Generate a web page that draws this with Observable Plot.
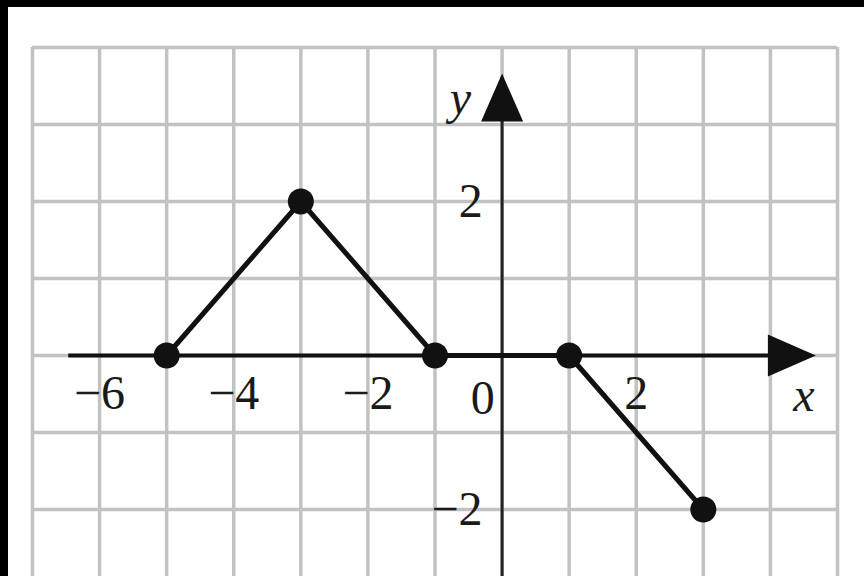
<!DOCTYPE html>
<html>
<head>
<meta charset="utf-8">
<script src="https://cdn.jsdelivr.net/npm/d3@7"></script>
<script src="https://cdn.jsdelivr.net/npm/@observablehq/plot@0.6"></script>
<style>
  html, body { margin: 0; padding: 0; background: #fff; }
  #wrap { position: relative; width: 864px; height: 576px; overflow: hidden; background: #fff; }
  #wrap svg { position: absolute; left: 0; top: 0; }
  .band { position: absolute; background: #000; }
</style>
</head>
<body>
<div id="wrap">
  <div id="chart"></div>
  <div class="band" style="left:0;top:0;width:864px;height:7px;"></div>
  <div class="band" style="left:0;top:0;width:8px;height:576px;"></div>
</div>
<script>
// Function graph vertices
const fx = [-5, -3, -1, 1, 3];
const fy = [0, 2, 0, 0, -2];

// Grid lines
const gridX = [-7, -6, -5, -4, -3, -2, -1, 0, 1, 2, 3, 4, 5];
const gridY = [4, 3, 2, 1, 0, -1, -2, -3];

// Tick labels
const xTickVals = [-6, -4, -2, 2];
const xTickLabels = ["\u22126", "\u22124", "\u22122", "2"];
const yTickVals = [2, -2];
const yTickLabels = ["2", "\u22122"];

const points = fx.map((x, i) => ({x, y: fy[i]}));

const arrowSymbol = {
  draw(context) {
    context.moveTo(0, -24);
    context.lineTo(21, 24);
    context.lineTo(-21, 24);
    context.closePath();
  }
};

const serif = "Liberation Serif, Times New Roman, serif";
const textColor = "#1a1a1a";

const chart = Plot.plot({
  width: 864,
  height: 576,
  margin: 0,
  style: {background: "#fff"},
  x: {domain: [-7, 5], range: [32, 837], axis: null},
  y: {domain: [4, -2], range: [47, 509], axis: null},
  marks: [
    Plot.ruleX(gridX, {x: d => d, y1: 4, y2: -3.3, stroke: "#c2c2c2", strokeWidth: 3.5}),
    Plot.ruleY(gridY, {y: d => d, x1: -7, x2: 5, stroke: "#c2c2c2", strokeWidth: 3.5}),
    // axes
    Plot.ruleY([0], {x1: -6.46, x2: 4.1, stroke: "#111", strokeWidth: 4}),
    Plot.ruleX([0], {y1: -3.3, y2: 3.1, stroke: "#222", strokeWidth: 3}),
    // arrowheads
    Plot.dot([{x: 0, y: 3.35, rot: 0}, {x: 4.32, y: 0, rot: 90}],
      {x: "x", y: "y", rotate: "rot", symbol: arrowSymbol, fill: "#111", stroke: "none"}),
    // function
    Plot.line(points, {x: "x", y: "y", stroke: "#111", strokeWidth: 5, strokeLinejoin: "round"}),
    Plot.dot(points, {x: "x", y: "y", r: 13, fill: "#111"}),
    // tick labels
    Plot.text(xTickVals, {x: d => d, y: -0.49, text: (d, i) => xTickLabels[i],
      fontSize: 48, fontFamily: serif, fill: textColor}),
    Plot.text(["0"], {x: -0.29, y: -0.56, text: d => d, fontSize: 48, fontFamily: serif, fill: textColor}),
    Plot.text(yTickVals, {x: -0.29, y: d => d, text: (d, i) => yTickLabels[i], textAnchor: "end",
      fontSize: 48, fontFamily: serif, fill: textColor}),
    // axis names
    Plot.text(["x"], {x: 4.5, y: -0.52, text: d => d, fontSize: 48, fontFamily: serif, fontStyle: "italic", fill: textColor}),
    Plot.text(["y"], {x: -0.62, y: 3.33, text: d => d, fontSize: 48, fontFamily: serif, fontStyle: "italic", fill: textColor})
  ]
});
document.getElementById("chart").appendChild(chart);
</script>
</body>
</html>
